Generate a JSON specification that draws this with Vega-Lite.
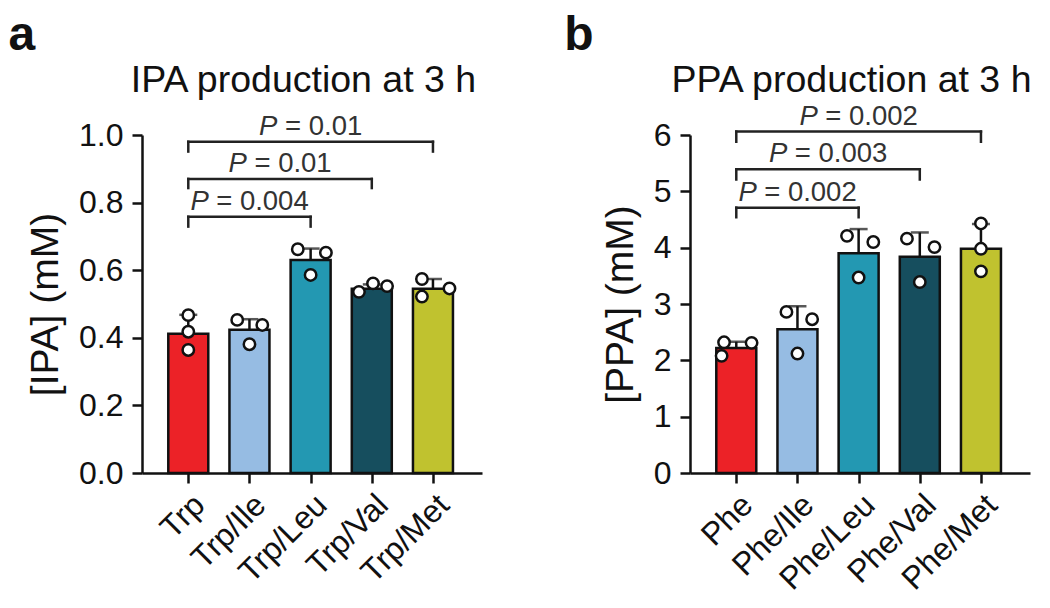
{
  "$schema": "https://vega.github.io/schema/vega-lite/v6.json",
  "padding": {"left": 8, "top": 12, "right": 5, "bottom": 5},
  "background": "white",
  "spacing": 82,
  "config": {
    "font": "Liberation Sans",
    "view": {"stroke": null},
    "axis": {
      "labelFont": "Liberation Sans", "titleFont": "Liberation Sans",
      "labelFontSize": 32, "titleFontSize": 39, "titleFontWeight": "normal",
      "labelColor": "#111", "titleColor": "#111",
      "domainColor": "#111", "tickColor": "#111",
      "domainWidth": 2.5, "tickWidth": 2.5, "tickSize": 10,
      "labelPadding": 9, "titlePadding": 13, "grid": false, "labelOverlap": false
    },
    "title": {"font": "Liberation Sans", "color": "#111"}
  },
  "datasets": {
    "bars_a": [
      {"i": 0, "g": "Trp", "mean": 0.412, "hi": 0.468},
      {"i": 1, "g": "Trp/Ile", "mean": 0.424, "hi": 0.455},
      {"i": 2, "g": "Trp/Leu", "mean": 0.630, "hi": 0.664},
      {"i": 3, "g": "Trp/Val", "mean": 0.545, "hi": 0.558},
      {"i": 4, "g": "Trp/Met", "mean": 0.545, "hi": 0.574}
    ],
    "pts_a": [
      {"x": 0, "v": 0.467}, {"x": 0, "v": 0.418}, {"x": 0, "v": 0.364},
      {"x": 0.8, "v": 0.453}, {"x": 1.21, "v": 0.438}, {"x": 1.0, "v": 0.381},
      {"x": 1.79, "v": 0.662}, {"x": 2.25, "v": 0.652}, {"x": 2.0, "v": 0.586},
      {"x": 2.79, "v": 0.536}, {"x": 3.02, "v": 0.561}, {"x": 3.25, "v": 0.553},
      {"x": 3.82, "v": 0.574}, {"x": 3.82, "v": 0.522}, {"x": 4.27, "v": 0.546}
    ],
    "br_a": [
      {"x1": 0, "x2": 2, "xm": 1, "y": 0.758, "yd": 0.729, "lab": "= 0.004", "len": "long"},
      {"x1": 0, "x2": 3, "xm": 1.5, "y": 0.870, "yd": 0.843, "lab": "= 0.01", "len": "short"},
      {"x1": 0, "x2": 4, "xm": 2, "y": 0.980, "yd": 0.951, "lab": "= 0.01", "len": "short"}
    ],
    "bars_b": [
      {"i": 0, "g": "Phe", "mean": 2.22, "hi": 2.33},
      {"i": 1, "g": "Phe/Ile", "mean": 2.55, "hi": 2.96},
      {"i": 2, "g": "Phe/Leu", "mean": 3.90, "hi": 4.33},
      {"i": 3, "g": "Phe/Val", "mean": 3.84, "hi": 4.27},
      {"i": 4, "g": "Phe/Met", "mean": 3.98, "hi": 4.42}
    ],
    "pts_b": [
      {"x": -0.2, "v": 2.32}, {"x": 0.25, "v": 2.31}, {"x": -0.24, "v": 2.08},
      {"x": 0.82, "v": 2.86}, {"x": 1.24, "v": 2.73}, {"x": 1.0, "v": 2.12},
      {"x": 1.81, "v": 4.21}, {"x": 2.24, "v": 4.10}, {"x": 2.0, "v": 3.47},
      {"x": 2.79, "v": 4.16}, {"x": 3.24, "v": 4.01}, {"x": 3.0, "v": 3.39},
      {"x": 4, "v": 4.43}, {"x": 4, "v": 3.98}, {"x": 4, "v": 3.58}
    ],
    "br_b": [
      {"x1": 0, "x2": 2, "xm": 1, "y": 4.71, "yd": 4.54, "lab": "= 0.002", "len": "long"},
      {"x1": 0, "x2": 3, "xm": 1.5, "y": 5.39, "yd": 5.21, "lab": "= 0.003", "len": "long"},
      {"x1": 0, "x2": 4, "xm": 2, "y": 6.06, "yd": 5.88, "lab": "= 0.002", "len": "long"}
    ]
  },
  "hconcat": [
    {
      "width": 340, "height": 338,
      "title": {"text": "a", "anchor": "start", "frame": "bounds", "fontSize": 48, "fontWeight": "bold", "dx": -18, "offset": 1},
      "resolve": {"axis": {"x": "independent"}},
      "layer": [
        {
          "data": {"name": "bars_a"},
          "mark": {"type": "bar", "width": 40, "stroke": "#111", "strokeWidth": 2.5},
          "encoding": {
            "x": {"field": "i", "type": "quantitative", "scale": {"domain": [-0.675, 4.72], "nice": false, "zero": false},
                  "axis": {"orient": "bottom", "values": [0, 1, 2, 3, 4], "labelExpr": "['Trp','Trp/Ile','Trp/Leu','Trp/Val','Trp/Met'][datum.value]",
                           "labelAngle": -45, "labelAlign": "right", "labelBaseline": "top", "labelFontSize": 32, "labelPadding": 6, "title": null}},
            "y": {"field": "mean", "type": "quantitative", "scale": {"domain": [0, 1], "nice": false},
                  "axis": {"values": [0, 0.2, 0.4, 0.6, 0.8, 1.0], "format": ".1f", "title": "[IPA] (mM)"}},
            "color": {"field": "g", "type": "nominal", "scale": {"domain": ["Trp", "Trp/Ile", "Trp/Leu", "Trp/Val", "Trp/Met"], "range": ["#EC2227", "#96BCE3", "#2398B2", "#164E5E", "#C0C22F"]}, "legend": null}
          }
        },
        {
          "data": {"name": "bars_a"},
          "mark": {"type": "rule", "color": "#111", "strokeWidth": 2.5},
          "encoding": {
            "x": {"field": "i", "type": "quantitative", "axis": null},
            "y": {"field": "mean", "type": "quantitative"},
            "y2": {"field": "hi"}
          }
        },
        {
          "data": {"name": "bars_a"},
          "mark": {"type": "tick", "orient": "horizontal", "size": 18, "thickness": 2.5, "color": "#111"},
          "encoding": {
            "x": {"field": "i", "type": "quantitative", "axis": null},
            "y": {"field": "hi", "type": "quantitative"}
          }
        },
        {
          "data": {"name": "pts_a"},
          "mark": {"type": "point", "shape": "circle", "filled": true, "fill": "white", "stroke": "#111", "strokeWidth": 2.5, "size": 130, "opacity": 1},
          "encoding": {
            "x": {"field": "x", "type": "quantitative", "axis": null},
            "y": {"field": "v", "type": "quantitative"}
          }
        },
        {
          "data": {"name": "br_a"},
          "mark": {"type": "rule", "color": "#222", "strokeWidth": 2.5, "strokeCap": "square"},
          "encoding": {
            "x": {"field": "x1", "type": "quantitative",
                  "axis": {"orient": "top", "title": "IPA production at 3 h", "labels": false, "ticks": false, "domain": false, "titleFontSize": 37.5, "titlePadding": 36, "titleX": 161}},
            "x2": {"field": "x2"},
            "y": {"field": "y", "type": "quantitative"}
          }
        },
        {
          "data": {"name": "br_a"},
          "mark": {"type": "rule", "color": "#222", "strokeWidth": 2.5, "strokeCap": "square"},
          "encoding": {
            "x": {"field": "x1", "type": "quantitative", "axis": null},
            "y": {"field": "y", "type": "quantitative"},
            "y2": {"field": "yd"}
          }
        },
        {
          "data": {"name": "br_a"},
          "mark": {"type": "rule", "color": "#222", "strokeWidth": 2.5, "strokeCap": "square"},
          "encoding": {
            "x": {"field": "x2", "type": "quantitative", "axis": null},
            "y": {"field": "y", "type": "quantitative"},
            "y2": {"field": "yd"}
          }
        },
        {
          "data": {"name": "br_a"},
          "mark": {"type": "text", "align": "center", "baseline": "alphabetic", "dx": 13, "dy": -7, "fontSize": 27.5, "color": "#333"},
          "encoding": {
            "x": {"field": "xm", "type": "quantitative", "axis": null},
            "y": {"field": "y", "type": "quantitative"},
            "text": {"field": "lab"}
          }
        },
        {
          "data": {"name": "br_a"},
          "transform": [{"filter": "datum.len == 'long'"}],
          "mark": {"type": "text", "align": "left", "baseline": "alphabetic", "dx": -59, "dy": -7, "fontSize": 27.5, "fontStyle": "italic", "color": "#333"},
          "encoding": {
            "x": {"field": "xm", "type": "quantitative", "axis": null},
            "y": {"field": "y", "type": "quantitative"},
            "text": {"value": "P"}
          }
        },
        {
          "data": {"name": "br_a"},
          "transform": [{"filter": "datum.len == 'short'"}],
          "mark": {"type": "text", "align": "left", "baseline": "alphabetic", "dx": -51.5, "dy": -7, "fontSize": 27.5, "fontStyle": "italic", "color": "#333"},
          "encoding": {
            "x": {"field": "xm", "type": "quantitative", "axis": null},
            "y": {"field": "y", "type": "quantitative"},
            "text": {"value": "P"}
          }
        }
      ]
    },
    {
      "width": 340, "height": 338,
      "title": {"text": "b", "anchor": "start", "frame": "bounds", "fontSize": 48, "fontWeight": "bold", "dx": -37, "offset": 1},
      "resolve": {"axis": {"x": "independent"}},
      "layer": [
        {
          "data": {"name": "bars_b"},
          "mark": {"type": "bar", "width": 40, "stroke": "#111", "strokeWidth": 2.5},
          "encoding": {
            "x": {"field": "i", "type": "quantitative", "scale": {"domain": [-0.675, 4.72], "nice": false, "zero": false},
                  "axis": {"orient": "bottom", "values": [0, 1, 2, 3, 4], "labelExpr": "['Phe','Phe/Ile','Phe/Leu','Phe/Val','Phe/Met'][datum.value]",
                           "labelAngle": -45, "labelAlign": "right", "labelBaseline": "top", "labelFontSize": 32, "labelPadding": 6, "title": null}},
            "y": {"field": "mean", "type": "quantitative", "scale": {"domain": [0, 6], "nice": false},
                  "axis": {"values": [0, 1, 2, 3, 4, 5, 6], "format": "d", "title": "[PPA] (mM)"}},
            "color": {"field": "g", "type": "nominal", "scale": {"domain": ["Phe", "Phe/Ile", "Phe/Leu", "Phe/Val", "Phe/Met"], "range": ["#EC2227", "#96BCE3", "#2398B2", "#164E5E", "#C0C22F"]}, "legend": null}
          }
        },
        {
          "data": {"name": "bars_b"},
          "mark": {"type": "rule", "color": "#111", "strokeWidth": 2.5},
          "encoding": {
            "x": {"field": "i", "type": "quantitative", "axis": null},
            "y": {"field": "mean", "type": "quantitative"},
            "y2": {"field": "hi"}
          }
        },
        {
          "data": {"name": "bars_b"},
          "mark": {"type": "tick", "orient": "horizontal", "size": 18, "thickness": 2.5, "color": "#111"},
          "encoding": {
            "x": {"field": "i", "type": "quantitative", "axis": null},
            "y": {"field": "hi", "type": "quantitative"}
          }
        },
        {
          "data": {"name": "pts_b"},
          "mark": {"type": "point", "shape": "circle", "filled": true, "fill": "white", "stroke": "#111", "strokeWidth": 2.5, "size": 130, "opacity": 1},
          "encoding": {
            "x": {"field": "x", "type": "quantitative", "axis": null},
            "y": {"field": "v", "type": "quantitative"}
          }
        },
        {
          "data": {"name": "br_b"},
          "mark": {"type": "rule", "color": "#222", "strokeWidth": 2.5, "strokeCap": "square"},
          "encoding": {
            "x": {"field": "x1", "type": "quantitative",
                  "axis": {"orient": "top", "title": "PPA production at 3 h", "labels": false, "ticks": false, "domain": false, "titleFontSize": 37.5, "titlePadding": 36, "titleX": 161}},
            "x2": {"field": "x2"},
            "y": {"field": "y", "type": "quantitative"}
          }
        },
        {
          "data": {"name": "br_b"},
          "mark": {"type": "rule", "color": "#222", "strokeWidth": 2.5, "strokeCap": "square"},
          "encoding": {
            "x": {"field": "x1", "type": "quantitative", "axis": null},
            "y": {"field": "y", "type": "quantitative"},
            "y2": {"field": "yd"}
          }
        },
        {
          "data": {"name": "br_b"},
          "mark": {"type": "rule", "color": "#222", "strokeWidth": 2.5, "strokeCap": "square"},
          "encoding": {
            "x": {"field": "x2", "type": "quantitative", "axis": null},
            "y": {"field": "y", "type": "quantitative"},
            "y2": {"field": "yd"}
          }
        },
        {
          "data": {"name": "br_b"},
          "mark": {"type": "text", "align": "center", "baseline": "alphabetic", "dx": 13, "dy": -7, "fontSize": 27.5, "color": "#333"},
          "encoding": {
            "x": {"field": "xm", "type": "quantitative", "axis": null},
            "y": {"field": "y", "type": "quantitative"},
            "text": {"field": "lab"}
          }
        },
        {
          "data": {"name": "br_b"},
          "mark": {"type": "text", "align": "left", "baseline": "alphabetic", "dx": -59, "dy": -7, "fontSize": 27.5, "fontStyle": "italic", "color": "#333"},
          "encoding": {
            "x": {"field": "xm", "type": "quantitative", "axis": null},
            "y": {"field": "y", "type": "quantitative"},
            "text": {"value": "P"}
          }
        }
      ]
    }
  ]
}
